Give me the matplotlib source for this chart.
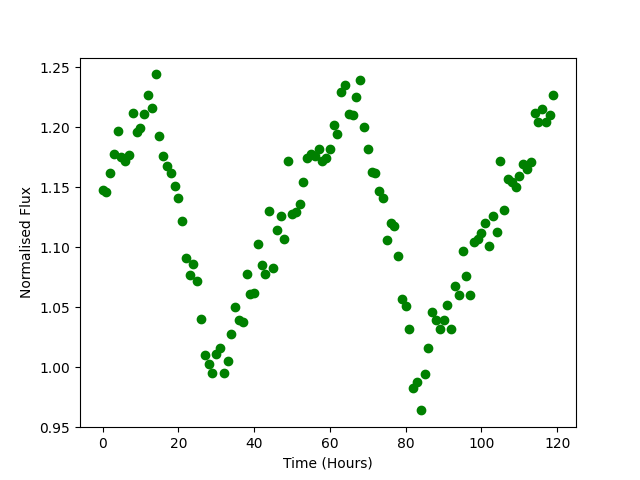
import numpy as np
import matplotlib
matplotlib.use("Agg")
import matplotlib.pyplot as plt

# hourly normalised flux readings
hours = np.arange(120)
flux = [
    1.148, 1.146, 1.162, 1.178, 1.197, 1.175, 1.172, 1.177, 1.212, 1.196,
    1.199, 1.211, 1.227, 1.216, 1.244, 1.193, 1.176, 1.168, 1.162, 1.151,
    1.141, 1.122, 1.091, 1.077, 1.086, 1.072, 1.040, 1.010, 1.003, 0.995,
    1.011, 1.016, 0.995, 1.005, 1.028, 1.050, 1.039, 1.038, 1.078, 1.061,
    1.062, 1.103, 1.085, 1.078, 1.130, 1.083, 1.114, 1.126, 1.107, 1.172,
    1.128, 1.129, 1.136, 1.154, 1.174, 1.178, 1.176, 1.182, 1.172, 1.174,
    1.182, 1.202, 1.194, 1.229, 1.235, 1.211, 1.210, 1.225, 1.239, 1.200,
    1.182, 1.163, 1.162, 1.147, 1.141, 1.106, 1.120, 1.118, 1.093, 1.057,
    1.051, 1.032, 0.983, 0.988, 0.964, 0.994, 1.016, 1.046, 1.039, 1.032,
    1.039, 1.052, 1.032, 1.068, 1.060, 1.097, 1.076, 1.060, 1.104, 1.107,
    1.112, 1.120, 1.101, 1.126, 1.113, 1.172, 1.131, 1.157, 1.154, 1.150,
    1.159, 1.169, 1.165, 1.171, 1.212, 1.204, 1.215, 1.204, 1.210, 1.227,
]

fig = plt.figure(figsize=(6.4, 4.8), dpi=100)
plt.plot(hours, flux, 'go')
plt.xlabel("Time (Hours)")
plt.ylabel("Normalised Flux")
plt.savefig("out.png")
